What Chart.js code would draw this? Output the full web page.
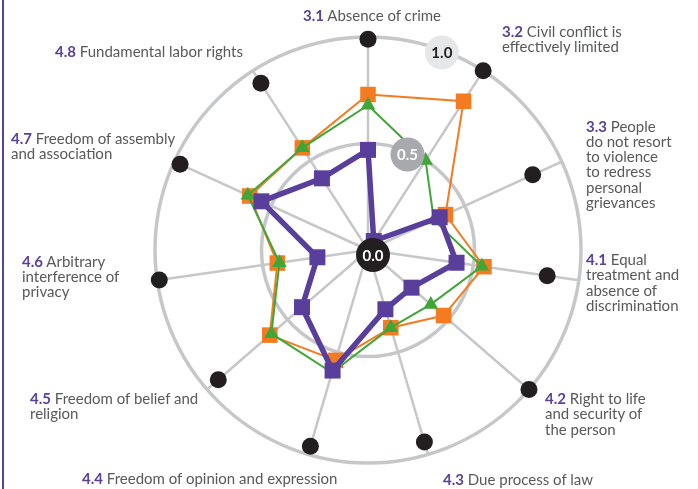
<!DOCTYPE html>
<html>
<head>
<meta charset="utf-8">
<script src="https://cdn.jsdelivr.net/npm/chart.js@4/dist/chart.umd.min.js"></script>
<style>
  body { margin: 0; background: #fff; }
  #wrap { position: relative; width: 698px; height: 489px; overflow: hidden; }
  #wrap canvas { position: absolute; left: 0; top: 0; }
  .edge { position: absolute; left: 2px; top: 0; width: 2px; height: 489px; background: #5b3f9d; }
  .lbl { position: absolute; font-family: Lato, sans-serif; font-size: 15px; line-height: 15.3px; color: #58595b; white-space: nowrap; }
  .lbl b { color: #5b3f9d; font-weight: 700; }
</style>
</head>
<body>
<div id="wrap">
  <canvas id="chart-radar" width="698" height="489"></canvas>
  <div class="edge"></div>
  <div id="labels"></div>
</div>
<script>
// factor codes + names (one entry per spoke, clockwise from top)
const codes = ['3.1', '3.2', '3.3', '4.1', '4.2', '4.3', '4.4', '4.5', '4.6', '4.7', '4.8'];
const names = [
  'Absence of crime',
  'Civil conflict is<br>effectively limited',
  'People<br>do not resort<br>to violence<br>to redress<br>personal<br>grievances',
  'Equal<br>treatment and<br>absence of<br>discrimination',
  'Right to life<br>and security of<br>the person',
  'Due process of law',
  'Freedom of opinion and expression',
  'Freedom of belief and<br>religion',
  'Arbitrary<br>interference of<br>privacy',
  'Freedom of assembly<br>and association',
  'Fundamental labor rights'
];
// where each label block sits (left, top)
const labelPos = [
  [303, 8], [502, 24], [586, 118.5], [586, 252], [545, 391], [443, 471.5],
  [82, 471], [30, 390.5], [22, 253.5], [11, 131], [55, 44]
];

// scores (0..1)
const topScore = [0.99, 1.0, 0.85, 0.85, 1.0, 0.94, 0.96, 0.93, 0.99, 0.97, 0.93];
const country  = [0.47, 0.05, 0.37, 0.42, 0.27, 0.29, 0.59, 0.41, 0.24, 0.55, 0.40];
const region   = [0.73, 0.83, 0.40, 0.55, 0.47, 0.38, 0.54, 0.61, 0.43, 0.61, 0.57];
const income   = [0.68, 0.50, 0.34, 0.54, 0.39, 0.38, 0.60, 0.60, 0.42, 0.62, 0.57];

const tickBadges = [
  { value: 0.0, text: '0.0', fill: '#231f20', color: '#ffffff' },
  { value: 0.5, text: '0.5', fill: '#a7a9ac', color: '#ffffff' },
  { value: 1.0, text: '1.0', fill: '#e6e7e8', color: '#231f20' }
];

const colors = { purple: '#5a3e9c', orange: '#f47b20', green: '#41a638', black: '#231f20', grid: '#c6c7c9' };

// labels as html text
const labelBox = document.getElementById('labels');
codes.forEach((c, i) => {
  const d = document.createElement('div');
  d.className = 'lbl';
  d.style.left = labelPos[i][0] + 'px';
  d.style.top = labelPos[i][1] + 'px';
  d.innerHTML = `<b>${c}</b> ${names[i]}`;
  labelBox.appendChild(d);
});

// round value badges drawn over the datasets
const badgePlugin = {
  id: 'badges',
  afterDatasetsDraw(chart) {
    const r = chart.scales.r;
    const ctx = chart.ctx;
    ctx.save();
    tickBadges.forEach(b => {
      let x, y;
      if (b.value === 0) {
        x = r.xCenter + 5; y = r.yCenter + 5;
      } else {
        const ang = (b.value === 1 ? 20.5 : 22.5) * Math.PI / 180;
        const dist = r.getDistanceFromCenterForValue(b.value === 1 ? 0.99 : 0.485);
        x = r.xCenter + Math.sin(ang) * dist;
        y = r.yCenter - Math.cos(ang) * dist;
      }
      ctx.beginPath();
      ctx.arc(x, y, 17, 0, Math.PI * 2);
      ctx.fillStyle = b.fill;
      ctx.fill();
      ctx.fillStyle = b.color;
      ctx.font = 'bold 15px Lato, sans-serif';
      ctx.textAlign = 'center';
      ctx.textBaseline = 'middle';
      ctx.fillText(b.text, x, y + 1);
    });
    ctx.restore();
  }
};

const ctx = document.getElementById('chart-radar').getContext('2d');
new Chart(ctx, {
  type: 'radar',
  data: {
    labels: codes,
    datasets: [
      {
        label: 'Country',
        data: country,
        borderColor: colors.purple,
        backgroundColor: colors.purple,
        borderWidth: 5.5,
        fill: false,
        pointStyle: 'rect',
        pointRadius: 11.3,
        pointBorderWidth: 0,
        order: 1
      },
      {
        label: 'Income group',
        data: income,
        borderColor: colors.green,
        backgroundColor: colors.green,
        borderWidth: 2,
        fill: false,
        pointStyle: 'triangle',
        pointRadius: 8.5,
        pointBorderWidth: 0,
        order: 2
      },
      {
        label: 'Region',
        data: region,
        borderColor: colors.orange,
        backgroundColor: colors.orange,
        borderWidth: 2,
        fill: false,
        pointStyle: 'rect',
        pointRadius: 11,
        pointBorderWidth: 0,
        order: 3
      },
      {
        label: 'Top score',
        data: topScore,
        showLine: false,
        fill: false,
        borderWidth: 0,
        borderColor: 'rgba(0,0,0,0)',
        backgroundColor: colors.black,
        pointBackgroundColor: colors.black,
        pointStyle: 'circle',
        pointRadius: 8.5,
        pointBorderWidth: 0,
        order: 4
      }
    ]
  },
  options: {
    responsive: false,
    animation: false,
    layout: { padding: { left: 155, right: 117, top: 37, bottom: 26 } },
    plugins: { legend: { display: false }, tooltip: { enabled: false }, filler: { propagate: false } },
    scales: {
      r: {
        min: 0,
        max: 1,
        ticks: { display: false, stepSize: 0.5 },
        pointLabels: { display: false },
        grid: { circular: true, color: colors.grid, lineWidth: 3.5 },
        angleLines: { color: colors.grid, lineWidth: 2.5 }
      }
    }
  },
  plugins: [badgePlugin]
});
</script>
</body>
</html>
